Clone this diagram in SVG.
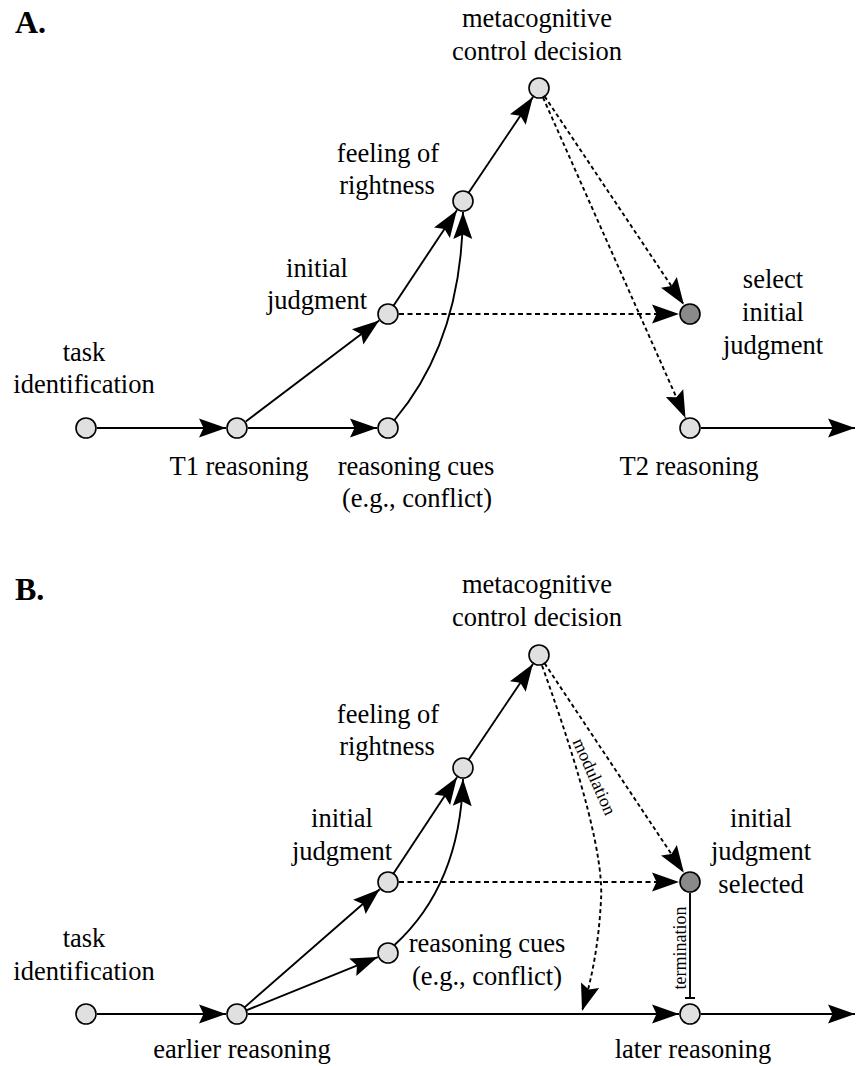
<svg xmlns="http://www.w3.org/2000/svg" width="857" height="1066" viewBox="0 0 857 1066">
<style>
text{font-family:"Liberation Serif","Times New Roman",serif;font-size:26.5px;fill:#000}
.c{text-anchor:middle}
.ttl{font-size:32px;font-weight:bold}
.sm{font-size:18px}
.n{fill:#e0e0e0;stroke:#000;stroke-width:1.6}
.d{fill:#8a8a8a;stroke:#000;stroke-width:1.6}
.e{fill:none;stroke:#000;stroke-width:1.9;marker-end:url(#arr)}
.dt{fill:none;stroke:#000;stroke-width:1.9;stroke-dasharray:4,3;marker-end:url(#arr)}
.dh{fill:none;stroke:#000;stroke-width:1.9;stroke-dasharray:5,3.5;marker-end:url(#arr)}
.p{fill:none;stroke:#000;stroke-width:1.9}
</style>
<defs>
<marker id="arr" markerUnits="userSpaceOnUse" markerWidth="32" markerHeight="22" viewBox="-29 -11 31 22" refX="0" refY="0" orient="auto">
<path d="M0,0 L-27,-9.5 L-22.5,0 L-27,9.5 Z" fill="#000"/>
</marker>
</defs>
<text class="ttl" x="15" y="33">A.</text>
<text class="ttl" x="15" y="600">B.</text>
<g id="connectors">
<!-- Panel A -->
<path class="e" d="M97,428 L226,428"/>
<path class="e" d="M248,428 L377,428"/>
<path class="e" d="M245.8,421.4 L379.2,320.6"/>
<path class="e" d="M393.5,305.7 L456.9,210.2"/>
<path class="e" d="M394.5,420 Q462,340 463,212"/>
<path class="e" d="M468.6,192.7 L532.9,97.1"/>
<path class="dt" d="M544.6,96.3 L683.9,304.8"/>
<path class="dt" d="M543,97.5 L685.5,417.9"/>
<path class="dh" d="M399,314 L679,314"/>
<path class="e" d="M701,428 L855,428"/>
<!-- Panel B -->
<path class="e" d="M97,1014 L226,1014"/>
<path class="e" d="M244.5,1007.4 L379.7,889.2"/>
<path class="e" d="M246.3,1010.3 L377.8,957.1"/>
<path class="e" d="M248,1014 L679,1014"/>
<path class="e" d="M393.5,873.6 L457,777.2"/>
<path class="e" d="M394.5,945 Q460,885 463,779"/>
<path class="e" d="M468.6,759.7 L532.9,664.1"/>
<path class="dt" d="M544.6,663.3 L683.9,872.8"/>
<path class="dt" d="M542,665.5 Q605,840 601,900 Q598,960 582,1011"/>
<path class="dh" d="M399,882 L679,882"/>
<path class="p" d="M690,893 L690,998 M685,998 L695,998"/>
<path class="e" d="M701,1014 L855,1014"/>
<text class="sm c" transform="translate(589,779) rotate(66)">modulation</text>
<text class="sm c" transform="translate(686,948) rotate(-90)">termination</text>
</g>
<!-- Panel A nodes -->
<g id="a-task"><circle class="n" cx="86" cy="428" r="10"/><text class="c" x="84" y="361">task</text><text class="c" x="84" y="393">identification</text></g>
<g id="a-t1"><circle class="n" cx="237" cy="428" r="10"/><text class="c" x="239" y="475">T1 reasoning</text></g>
<g id="a-cues"><circle class="n" cx="388" cy="428" r="10"/><text class="c" x="416" y="475">reasoning cues</text><text class="c" x="417" y="507">(e.g., conflict)</text></g>
<g id="a-init"><circle class="n" cx="388" cy="314" r="10"/><text class="c" x="317" y="277">initial</text><text class="c" x="317" y="309">judgment</text></g>
<g id="a-for"><circle class="n" cx="463" cy="201" r="10"/><text class="c" x="388" y="162">feeling of</text><text class="c" x="387" y="194">rightness</text></g>
<g id="a-meta"><circle class="n" cx="539" cy="88" r="10"/><text class="c" x="537" y="27">metacognitive</text><text class="c" x="537" y="60">control decision</text></g>
<g id="a-select"><circle class="d" cx="690" cy="314" r="10"/><text class="c" x="773" y="288">select</text><text class="c" x="773" y="321">initial</text><text class="c" x="773" y="354">judgment</text></g>
<g id="a-t2"><circle class="n" cx="690" cy="428" r="10"/><text class="c" x="689" y="475">T2 reasoning</text></g>
<!-- Panel B nodes -->
<g id="b-task"><circle class="n" cx="86" cy="1014" r="10"/><text class="c" x="84" y="947">task</text><text class="c" x="84" y="980">identification</text></g>
<g id="b-earlier"><circle class="n" cx="237" cy="1014" r="10"/><text class="c" x="242" y="1058">earlier reasoning</text></g>
<g id="b-init"><circle class="n" cx="388" cy="882" r="10"/><text class="c" x="342" y="827">initial</text><text class="c" x="342" y="860">judgment</text></g>
<g id="b-cues"><circle class="n" cx="388" cy="953" r="10"/><text class="c" x="487" y="952">reasoning cues</text><text class="c" x="487" y="985">(e.g., conflict)</text></g>
<g id="b-for"><circle class="n" cx="463" cy="768" r="10"/><text class="c" x="388" y="723">feeling of</text><text class="c" x="387" y="755">rightness</text></g>
<g id="b-meta"><circle class="n" cx="539" cy="655" r="10"/><text class="c" x="537" y="593">metacognitive</text><text class="c" x="537" y="626">control decision</text></g>
<g id="b-selected"><circle class="d" cx="690" cy="882" r="10"/><text class="c" x="761" y="827">initial</text><text class="c" x="761" y="860">judgment</text><text class="c" x="761" y="893">selected</text></g>
<g id="b-later"><circle class="n" cx="690" cy="1014" r="10"/><text class="c" x="693" y="1058">later reasoning</text></g>
</svg>
